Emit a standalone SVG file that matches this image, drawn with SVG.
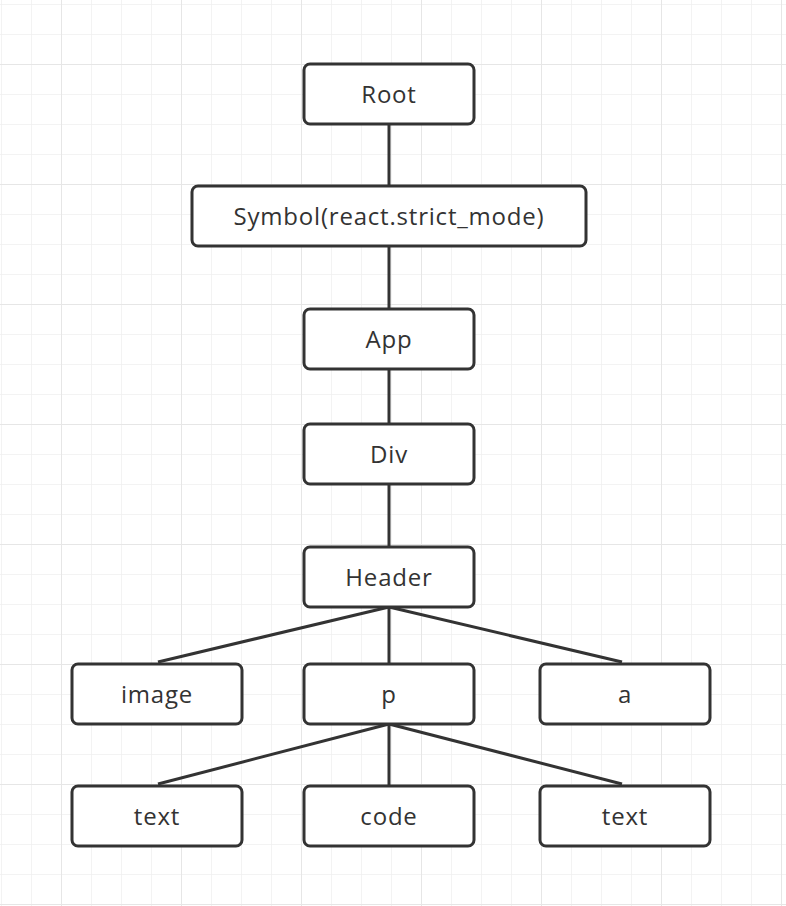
<svg xmlns="http://www.w3.org/2000/svg" width="786" height="906" viewBox="0 0 786 906">
<defs>
<pattern id="minor" x="1" y="4" width="30" height="30" patternUnits="userSpaceOnUse">
<path d="M0 0H30M0 0V30" fill="none" stroke="#f0f0f0" stroke-width="1.5"/>
</pattern>
<pattern id="major" x="61" y="64" width="120" height="120" patternUnits="userSpaceOnUse">
<path d="M0 0H120M0 0V120" fill="none" stroke="#e6e6e6" stroke-width="2"/>
</pattern>
</defs>
<style>
.n rect{fill:#fff;stroke:#333;stroke-width:3}
.n text{font-family:"Open Sans","Noto Sans",sans-serif;font-size:24px;letter-spacing:0.8px;fill:#333;text-anchor:middle;dominant-baseline:central}
#edges line{stroke:#333;stroke-width:3}
</style>
<rect width="786" height="906" fill="#fff"/>
<rect width="786" height="906" fill="url(#minor)"/>
<rect width="786" height="906" fill="url(#major)"/>
<g id="edges">
<line x1="389" y1="124" x2="389" y2="186"/>
<line x1="389" y1="246" x2="389" y2="309"/>
<line x1="389" y1="369" x2="389" y2="424"/>
<line x1="389" y1="484" x2="389" y2="547"/>
<line x1="389" y1="607" x2="158" y2="662"/>
<line x1="389" y1="607" x2="389" y2="664"/>
<line x1="389" y1="607" x2="622" y2="662"/>
<line x1="389" y1="724" x2="158" y2="784"/>
<line x1="389" y1="724" x2="389" y2="786"/>
<line x1="389" y1="724" x2="622" y2="784"/>
</g>
<g id="root" class="n"><rect x="304" y="64" width="170" height="60" rx="6"/><text x="389" y="93.5">Root</text></g>
<g id="symbol" class="n"><rect x="192" y="186" width="394" height="60" rx="6"/><text x="389" y="215.5">Symbol(react.strict_mode)</text></g>
<g id="app" class="n"><rect x="304" y="309" width="170" height="60" rx="6"/><text x="389" y="338.5">App</text></g>
<g id="div" class="n"><rect x="304" y="424" width="170" height="60" rx="6"/><text x="389" y="453.5">Div</text></g>
<g id="header" class="n"><rect x="304" y="547" width="170" height="60" rx="6"/><text x="389" y="576.5">Header</text></g>
<g id="image" class="n"><rect x="72" y="664" width="170" height="60" rx="6"/><text x="157" y="693.5">image</text></g>
<g id="p" class="n"><rect x="304" y="664" width="170" height="60" rx="6"/><text x="389" y="693.5">p</text></g>
<g id="a" class="n"><rect x="540" y="664" width="170" height="60" rx="6"/><text x="625" y="693.5">a</text></g>
<g id="text1" class="n"><rect x="72" y="786" width="170" height="60" rx="6"/><text x="157" y="815.5">text</text></g>
<g id="code" class="n"><rect x="304" y="786" width="170" height="60" rx="6"/><text x="389" y="815.5">code</text></g>
<g id="text2" class="n"><rect x="540" y="786" width="170" height="60" rx="6"/><text x="625" y="815.5">text</text></g>
</svg>
